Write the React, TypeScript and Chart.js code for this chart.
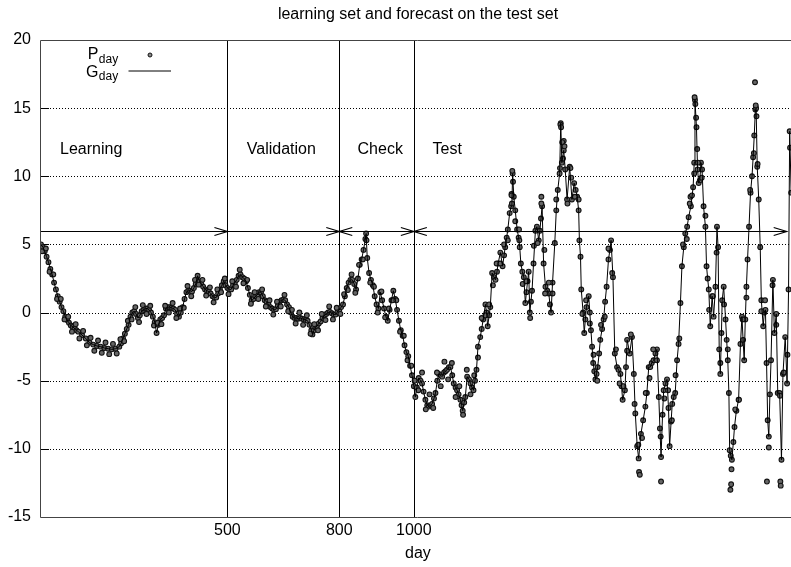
import React, { useEffect, useRef } from "react";
import { Chart, registerables } from "chart.js";

Chart.register(...registerables);

const FONT = '"Liberation Sans", Arial, Helvetica, sans-serif';

// ---- texts / ticks ----
const titleText = "learning set and forecast on the test set";
const xAxisLabel = "day";
const xTickValues = [500, 800, 1000];
const yGridValues = [-10, -5, 0, 5, 10, 15];
const yTickValues = [-15, -10, -5, 0, 5, 10, 15, 20];
const legendLabels = ["P", "G"];
const legendSub = "day";

// ---- periods ----
const segmentBounds = [0, 500, 800, 1000, 2000];
const segmentLabels = ["Learning", "Validation", "Check", "Test"];
const segmentLabelDays = [51, 552, 849, 1050];
const segmentLabelLevel = 11.6;
const arrowLevel = 6;
const arrowHeadStart = [false, false, true, true];
const arrowHeadEnd = [true, true, true, true];

// ---- learning set (days 0-499) ----
const learnDays = [
  0, 5, 10, 15, 20, 25, 30, 35, 40, 45,
  50, 55, 60, 65, 70, 75, 80, 85, 90, 95,
  100, 110, 120, 130, 140, 150, 160, 170, 180, 190,
  200, 210, 215, 220, 225, 230, 235, 240, 245, 250,
  255, 260, 265, 270, 275, 280, 285, 290, 295, 300,
  305, 310, 315, 320, 325, 330, 335, 340, 345, 350,
  355, 360, 365, 370, 375, 380, 385, 390, 395, 400,
  405, 410, 415, 420, 425, 430, 435, 440, 445, 450,
  455, 460, 465, 470, 475, 480, 485, 490, 495,
];
const learnValues = [
  5.0, 4.8, 4.5, 4.1, 3.7, 3.2, 2.8, 2.2, 1.7, 1.2,
  0.8, 0.4, 0.1, -0.3, -0.55, -0.75, -0.95, -1.05, -1.15, -1.3,
  -1.4, -1.65, -1.9, -2.2, -2.35, -2.45, -2.5, -2.6, -2.65, -2.7,
  -2.65, -2.5, -2.25, -1.9, -1.55, -1.2, -0.9, -0.3, 0.0, 0.1,
  -0.1, -0.4, -0.2, 0.1, 0.2, 0.3, 0.3, 0.2, 0.0, -0.3,
  -0.7, -1.5, -0.9, -0.5, -0.4, -0.2, 0.3, 0.4, 0.4, 0.35,
  0.3, 0.2, -0.1, -0.3, 0.0, 0.4, 1.0, 1.5, 1.6, 1.6,
  1.55, 1.8, 2.1, 2.7, 2.3, 2.1, 1.9, 1.7, 1.6, 1.55,
  1.4, 1.2, 1.1, 1.1, 1.4, 1.7, 2.0, 2.3, 2.0,
];

// ---- validation set (days 500-799) ----
const validDays = [
  500, 505, 510, 515, 520, 525, 530, 535, 540, 545,
  550, 555, 560, 565, 570, 575, 580, 585, 590, 595,
  600, 605, 610, 615, 620, 625, 630, 635, 640, 645,
  650, 655, 660, 665, 670, 675, 680, 685, 690, 695,
  700, 705, 710, 715, 720, 725, 728, 732, 736, 740,
  745, 750, 755, 760, 765, 770, 775, 780, 785, 790,
  795,
];
const validValues = [
  1.8, 1.7, 1.7, 2.0, 2.2, 2.4, 2.7, 2.8, 2.6, 2.5,
  2.3, 1.8, 1.3, 0.9, 1.0, 1.2, 1.3, 1.5, 1.5, 1.2,
  0.9, 0.8, 0.6, 0.4, 0.3, 0.2, 0.25, 0.5, 0.8, 0.9,
  0.95, 0.9, 0.6, 0.4, 0.0, -0.3, -0.4, -0.4, -0.45, -0.4,
  -0.45, -0.5, -0.55, -0.6, -0.9, -1.3, -1.6, -1.3, -1.1, -1.0,
  -0.8, -0.65, -0.4, -0.2, -0.1, 0.0, 0.05, -0.05, -0.15, -0.15,
  0.05,
];

// ---- check set (days 800-999) ----
const checkDays = [
  800, 805, 810, 815, 820, 825, 830, 835, 840, 845,
  850, 855, 860, 865, 870, 872, 875, 880, 885, 890,
  895, 900, 905, 910, 915, 920, 925, 930, 935, 940,
  945, 950, 955, 960, 965, 970, 975, 980, 985, 990,
  995,
];
const checkValues = [
  0.2, 0.4, 0.6, 1.2, 1.8, 2.2, 2.4, 2.4, 2.1, 1.7,
  2.5, 3.5, 3.9, 4.6, 5.4, 5.8, 4.0, 2.9, 2.4, 2.0,
  1.2, 0.6, 0.3, 1.5, 0.9, 0.3, -0.3, -0.6, 0.2, 0.9,
  1.6, 1.0, 0.2, -0.6, -1.3, -1.7, -2.4, -2.9, -3.2, -3.9,
  -4.6,
];

// ---- test set (days 1000-2012) ----
const testDays = [
  1000, 1004, 1008, 1013, 1018, 1022, 1026, 1031, 1036, 1040,
  1045, 1049, 1054, 1058, 1063, 1067, 1072, 1076, 1081, 1085,
  1089, 1094, 1098, 1103, 1107, 1112, 1116, 1120, 1125, 1128,
  1131, 1135, 1138, 1143, 1148, 1152, 1156, 1160, 1164, 1168,
  1172, 1178, 1182, 1186, 1192, 1195, 1198, 1202, 1205, 1210,
  1215, 1219, 1223, 1226, 1232, 1238, 1242, 1245, 1249, 1252,
  1257, 1261, 1263, 1265, 1268, 1272, 1277, 1281, 1284, 1287,
  1291, 1295, 1299, 1302, 1305, 1308, 1311, 1314, 1317, 1321,
  1326, 1330, 1335, 1338, 1341, 1344, 1348, 1353, 1358, 1362,
  1365, 1368, 1372, 1378, 1382, 1386, 1391, 1394, 1397, 1402,
  1406, 1411, 1418, 1424, 1430, 1434, 1438, 1442, 1444, 1447,
  1449, 1454, 1457, 1460, 1463, 1469, 1472, 1475, 1478, 1481,
  1484, 1487, 1490, 1493, 1497, 1500, 1505, 1509, 1513, 1517,
  1522, 1526, 1529, 1534, 1539, 1545, 1549, 1554, 1557, 1560,
  1566, 1569, 1572, 1579, 1585, 1590, 1594, 1599, 1603, 1609,
  1615, 1621, 1625, 1630, 1634, 1638, 1643, 1648, 1652, 1657,
  1660, 1663, 1667, 1670, 1675, 1679, 1683, 1686, 1690, 1693,
  1697, 1701, 1706, 1710, 1715, 1719, 1724, 1728, 1733, 1737,
  1743, 1749, 1752, 1754, 1758, 1761, 1764, 1767, 1770, 1773,
  1777, 1782, 1785, 1788, 1791, 1795, 1800, 1804, 1809, 1813,
  1816, 1819, 1822, 1825, 1827, 1831, 1836, 1839, 1842, 1845,
  1847, 1850, 1853, 1857, 1860, 1865, 1871, 1876, 1880, 1883,
  1886, 1889, 1892, 1895, 1899, 1903, 1907, 1910, 1913, 1916,
  1918, 1921, 1925, 1929, 1932, 1937, 1940, 1943, 1946, 1949,
  1952, 1955, 1958, 1963, 1967, 1972, 1976, 1981, 1986, 1990,
  1996, 2001, 2005, 2008, 2012,
];
const testValues = [
  -5.4, -6.2, -5.5, -4.8, -5.0, -5.2, -5.8, -6.4, -6.8, -6.9,
  -6.8, -6.7, -6.3, -5.9, -5.0, -4.5, -4.6, -4.7, -4.4, -4.3,
  -4.2, -4.0, -4.0, -4.6, -5.2, -5.5, -5.7, -6.0, -6.4, -6.8,
  -7.2, -6.6, -6.2, -4.7, -4.9, -5.2, -5.5, -5.7, -5.0, -4.2,
  -2.5, -1.8, -1.2, -0.5, 0.6, 0.0, -1.0, -0.2, 0.4, 2.9,
  2.6, 2.4, 3.0, 3.6, 4.4, 3.4, 4.2, 4.8, 5.5, 6.1,
  7.3, 7.8, 8.0, 10.2, 8.5, 7.5, 6.1, 5.5, 4.8, 3.6,
  3.0, 2.6, 0.7, 1.5, 2.3, 3.0, 0.0, 0.8, 1.6, 3.6,
  6.0, 6.3, 5.3, 6.0, 6.9, 7.8, 3.6, 1.9, 1.6, 1.4,
  0.6, 0.0, 2.2, 5.1, 7.5, 9.0, 10.2, 13.9, 11.0, 11.9,
  10.5, 8.3, 10.7, 8.3, 9.5, 9.0, 8.5, 7.5, 5.3, 4.1,
  1.7, 0.0, -1.5, -0.5, 0.4, 1.2, 0.0, -1.3, -2.5, -3.7,
  -4.3, -4.9, -4.5, -4.0, -3.0, -2.0, -1.2, -0.5, 0.8, 1.9,
  3.9, 4.6, 5.3, 2.6, -3.0, -4.0, -4.2, -4.5, -5.4, -6.4,
  -5.7, -4.0, -2.0, -3.0, -1.8, -4.5, -7.4, -9.8, -10.7, -8.9,
  -7.9, -6.9, -5.9, -4.0, -4.0, -3.7, -3.5, -3.0, -2.7, -6.2,
  -8.5, -10.6, -7.5, -5.7, -5.2, -4.9, -7.0, -9.8, -8.0, -6.7,
  -6.2, -5.9, -3.5, -2.3, 0.7, 3.4, 4.8, 5.8, 6.3, 7.0,
  7.8, 9.2, 11.0, 15.6, 13.6, 10.5, 9.5, 9.7, 11.0, 10.5,
  7.8, 6.3, 3.4, 2.5, 1.7, -1.0, 1.2, -0.3, 1.9, 6.3,
  4.8, -2.7, -4.5, -1.5, 0.9, 1.9, -0.5, -2.0, -3.5, -5.9,
  -10.1, -10.5, -10.8, -9.5, -8.4, -7.2, -6.4, -2.3, -0.3, -2.0,
  -3.5, -0.5, 1.9, 3.9, 6.3, 8.8, 10.0, 11.4, 13.0, 14.9,
  15.0, 10.7, 8.3, 4.8, 0.9, -1.0, 0.0, 0.2, -3.7, -7.9,
  -9.1, -6.0, -3.5, 2.4, -1.5, -0.1, -5.9, -5.9, -10.8, -4.5,
  -1.8, -5.2, 1.7, 13.3, 8.8,
];

// ---- observed points: spread of the cloud, days 0-999 ----
const bandDays = [
  3, 13, 23, 33, 43, 53, 63, 73, 83, 93,
  103, 113, 123, 133, 143, 153, 163, 173, 183, 193,
  203, 213, 223, 233, 243, 253, 263, 273, 283, 293,
  303, 313, 323, 333, 343, 353, 363, 373, 383, 393,
  403, 413, 423, 433, 443, 453, 463, 473, 483, 493,
  503, 513, 523, 533, 543, 553, 563, 573, 583, 593,
  603, 613, 623, 633, 643, 653, 663, 673, 683, 693,
  703, 713, 723, 733, 743, 753, 763, 773, 783, 793,
  803, 813, 823, 833, 843, 853, 863, 873, 883, 893,
  903, 913, 923, 933, 943, 953, 963, 973, 983, 993,
];
const bandValues = [
  4.5, 4.7, 3.0, 2.8, 1.0, 1.0, -0.5, -0.3, -1.4, -0.85,
  -1.9, -1.35, -2.4, -1.85, -2.8, -2.05, -2.95, -2.2, -3.05, -2.3,
  -3.0, -1.95, -2.1, -0.6, -0.5, 0.4, -0.7, 0.55, -0.1, 0.5,
  -0.95, -0.75, -0.85, 0.5, 0.0, 0.7, -0.4, 0.3, 0.35, 1.95,
  1.2, 2.4, 2.05, 2.4, 1.25, 1.85, 0.75, 1.7, 1.5, 2.5,
  1.35, 2.3, 1.9, 3.15, 2.15, 2.4, 0.65, 1.5, 1.0, 1.7,
  0.45, 0.9, -0.15, 0.8, 0.45, 1.3, 0.1, 0.2, -0.8, 0.0,
  -0.9, -0.2, -1.55, -0.85, -1.3, -0.1, -0.55, 0.45, -0.5, 0.35,
  -0.1, 1.35, 1.65, 2.8, 1.45, 3.5, 3.9, 5.3, 2.2, 1.9,
  0.0, 1.55, -0.35, 0.3, 0.9, 0.9, -1.4, -1.7, -3.5, -3.9,
];

// ---- observed points: spread of the cloud, test set ----
const cloudDays = [
  1002, 1012, 1022, 1032, 1042, 1052, 1062, 1072, 1082, 1092,
  1102, 1112, 1122, 1132, 1142, 1152, 1162, 1172, 1182, 1192,
  1202, 1212, 1222, 1232, 1242, 1252, 1262, 1272, 1282, 1292,
  1302, 1312, 1322, 1332, 1342, 1352, 1362, 1372, 1382, 1392,
  1402, 1412, 1422, 1432, 1442, 1452, 1462, 1472, 1482, 1492,
  1502, 1512, 1522, 1532, 1542, 1552, 1562, 1572, 1582, 1592,
  1602, 1612, 1622, 1632, 1642, 1652, 1662, 1672, 1682, 1692,
  1702, 1712, 1722, 1732, 1742, 1752, 1762, 1772, 1782, 1792,
  1802, 1812, 1822, 1832, 1842, 1852, 1862, 1872, 1882, 1892,
  1902, 1912, 1922, 1932, 1942, 1952, 1962, 1972, 1982, 1992,
  2002,
];
const cloudValues = [
  -5.0, -5.7, -4.4, -7.1, -6.0, -7.0, -4.4, -5.4, -3.6, -4.9,
  -3.7, -6.2, -5.4, -7.5, -4.2, -6.0, -4.6, -3.3, -0.4, -0.2,
  0.6, 2.0, 3.6, 3.6, 5.0, 5.3, 8.7, 6.7, 6.1, 2.1,
  2.3, -0.4, 4.9, 5.1, 8.0, 1.4, 2.2, 1.4, 8.3, 10.6,
  12.6, 8.0, 9.9, 8.5, 8.3, -0.1, 0.9, -0.8, -3.1, -5.0,
  -0.9, -0.3, 4.7, 2.9, -2.7, -5.2, -5.4, -2.8, -1.6, -6.7,
  -9.7, -9.2, -5.9, -4.8, -2.7, -3.5, -9.1, -6.3, -5.7, -7.9,
  -4.6, -1.9, 5.0, 5.4, 8.5, 10.2, 11.0, 9.9, 7.1, 0.2,
  1.2, 4.4, -3.7, 0.6, -2.7, -11.5, -7.1, -6.4, -0.5, 1.1,
  9.0, 11.7, 10.9, 0.1, 0.9, -9.9, 2.0, -0.9, -6.1, -4.4,
  -3.1,
];

// ---- observed outliers off the forecast line ----
const extraDays = [
  1262, 1264, 1266, 1283, 1342, 1350, 1393, 1395, 1398, 1400,
  1404, 1420, 1604, 1606, 1663, 1740, 1746, 1753, 1755, 1757,
  1760, 1849, 1851, 1915, 1917, 1919, 1947, 1983, 1984, 2009,
];
const extraValues = [
  8.6, 10.4, 9.6, 5.3, 8.5, 4.6, 13.8, 13.6, 12.5, 11.3,
  12.2, 10.6, -11.7, -11.9, -12.4, 8.0, 8.6, 15.8, 15.3, 14.3,
  12.0, -13.0, -12.6, 16.9, 15.2, 14.4, -12.4, -12.4, -12.7, 12.1,
];

const gDays = [...learnDays, ...validDays, ...checkDays, ...testDays];
const gValues = [...learnValues, ...validValues, ...checkValues, ...testValues];

function drawArrowHead(ctx: CanvasRenderingContext2D, tipX: number, y: number, dir: number) {
  const len = 13;
  const half = 4;
  ctx.beginPath();
  ctx.moveTo(tipX - dir * len, y - half);
  ctx.lineTo(tipX, y);
  ctx.lineTo(tipX - dir * len, y + half);
  ctx.stroke();
}

const px = (v: number) => Math.round(v) + 0.5;

const overlayPlugin = {
  id: "overlay",
  beforeDatasetsDraw(chart: any) {
    const { ctx, chartArea: a, scales } = chart;
    const x = scales.x;
    const y = scales.y;
    ctx.save();
    ctx.lineWidth = 1;
    ctx.strokeStyle = "#000";
    ctx.setLineDash([1, 2]);
    for (const v of yGridValues) {
      const py = px(y.getPixelForValue(v));
      ctx.beginPath();
      ctx.moveTo(a.left, py);
      ctx.lineTo(a.right, py);
      ctx.stroke();
    }
    ctx.setLineDash([]);
    for (const v of yTickValues) {
      const py = px(y.getPixelForValue(v));
      ctx.beginPath();
      ctx.moveTo(a.left, py);
      ctx.lineTo(a.left + 8, py);
      ctx.stroke();
    }
    for (const v of xTickValues) {
      const pxv = px(x.getPixelForValue(v));
      ctx.beginPath();
      ctx.moveTo(pxv, a.top);
      ctx.lineTo(pxv, a.bottom);
      ctx.stroke();
    }
    ctx.strokeStyle = "#444";
    const l = px(a.left) - 1;
    const b = px(a.bottom);
    const t = px(a.top);
    ctx.beginPath();
    ctx.moveTo(a.right, t);
    ctx.lineTo(l, t);
    ctx.lineTo(l, b);
    ctx.lineTo(a.right, b);
    ctx.stroke();
    ctx.restore();
  },
  afterDatasetsDraw(chart: any) {
    const { ctx, scales } = chart;
    const x = scales.x;
    const y = scales.y;
    ctx.save();

    ctx.strokeStyle = "#000";
    ctx.lineWidth = 1.2;
    const ay = px(y.getPixelForValue(arrowLevel));
    for (let i = 0; i < segmentLabels.length; i++) {
      const x0 = x.getPixelForValue(segmentBounds[i]);
      const x1 = x.getPixelForValue(segmentBounds[i + 1]);
      ctx.beginPath();
      ctx.moveTo(x0, ay);
      ctx.lineTo(x1, ay);
      ctx.stroke();
      if (arrowHeadStart[i]) drawArrowHead(ctx, x0, ay, -1);
      if (arrowHeadEnd[i]) drawArrowHead(ctx, x1, ay, 1);
    }

    ctx.fillStyle = "#000";
    ctx.font = `16px ${FONT}`;
    ctx.textAlign = "left";
    ctx.textBaseline = "alphabetic";
    const ly = y.getPixelForValue(segmentLabelLevel);
    segmentLabels.forEach((t, i) => {
      ctx.fillText(t, x.getPixelForValue(segmentLabelDays[i]), ly);
    });

    ctx.textAlign = "center";
    ctx.textBaseline = "middle";
    ctx.fillText(titleText, 418, 15);

    const mainX = 98.5;
    const mainBase = [58.5, 76.5];
    const subBase = [62.5, 79.5];
    legendLabels.forEach((t, i) => {
      ctx.font = `16px ${FONT}`;
      ctx.textAlign = "right";
      ctx.textBaseline = "alphabetic";
      ctx.fillText(t, mainX, mainBase[i]);
      ctx.font = `12px ${FONT}`;
      ctx.textAlign = "left";
      ctx.fillText(legendSub, mainX + 0.3, subBase[i]);
    });
    ctx.beginPath();
    ctx.arc(150, 55, 2, 0, Math.PI * 2);
    ctx.fillStyle = "#888";
    ctx.fill();
    ctx.strokeStyle = "#111";
    ctx.lineWidth = 1;
    ctx.stroke();
    ctx.strokeStyle = "#000";
    ctx.beginPath();
    ctx.moveTo(128.5, 71);
    ctx.lineTo(171, 71);
    ctx.stroke();
    ctx.restore();
  },
};

export default function App() {
  const canvasRef = useRef<HTMLCanvasElement | null>(null);

  useEffect(() => {
    const canvas = canvasRef.current;
    if (!canvas) return;
    const toPoints = (ds: number[], vs: number[]) => ds.map((d, i) => ({ x: d, y: vs[i] }));
    const gPoints = toPoints(gDays, gValues);
    const pPoints = [
      ...gPoints,
      ...toPoints(bandDays, bandValues),
      ...toPoints(cloudDays, cloudValues),
      ...toPoints(extraDays, extraValues),
    ];

    const chart = new Chart(canvas, {
      type: "scatter",
      data: {
        datasets: [
          {
            label: "G_day",
            data: gPoints,
            showLine: true,
            borderColor: "#000",
            borderWidth: 1,
            pointRadius: 0,
            pointHoverRadius: 0,
            tension: 0,
          },
          {
            label: "P_day",
            data: pPoints,
            showLine: false,
            pointRadius: 2.4,
            pointBorderWidth: 1.1,
            borderColor: "#111",
            backgroundColor: "#666",
          },
        ],
      },
      options: {
        animation: false,
        responsive: false,
        events: [],
        layout: { padding: { top: 40, left: 0, right: 0, bottom: 0 } },
        plugins: {
          legend: { display: false },
          tooltip: { enabled: false },
          title: { display: false },
        },
        scales: {
          x: {
            type: "linear",
            min: 0,
            max: 2022,
            afterBuildTicks: (scale: any) => {
              scale.ticks = xTickValues.map((v) => ({ value: v }));
            },
            afterFit: (scale: any) => {
              scale.height = 50;
            },
            ticks: {
              color: "#000",
              font: { family: FONT, size: 16 },
              padding: 4,
              maxRotation: 0,
              autoSkip: false,
              callback: (v: any) => String(v),
            },
            grid: { display: false, drawTicks: false },
            border: { display: false },
            title: {
              display: true,
              text: xAxisLabel,
              color: "#000",
              font: { family: FONT, size: 16 },
              padding: { top: 0, bottom: 4 },
            },
          },
          y: {
            type: "linear",
            min: -15,
            max: 20,
            afterFit: (scale: any) => {
              scale.width = 41;
            },
            ticks: {
              stepSize: 5,
              color: "#000",
              font: { family: FONT, size: 16 },
              padding: 10,
            },
            grid: { display: false, drawTicks: false },
            border: { display: false },
          },
        },
      },
      plugins: [overlayPlugin],
    } as any);

    return () => chart.destroy();
  }, []);

  return (
    <div
      style={{
        position: "absolute",
        left: 0,
        top: 0,
        width: 791,
        height: 567,
        overflow: "hidden",
        background: "#fff",
      }}
    >
      <canvas ref={canvasRef} width={800} height={567} style={{ width: 800, height: 567, display: "block" }} />
    </div>
  );
}
